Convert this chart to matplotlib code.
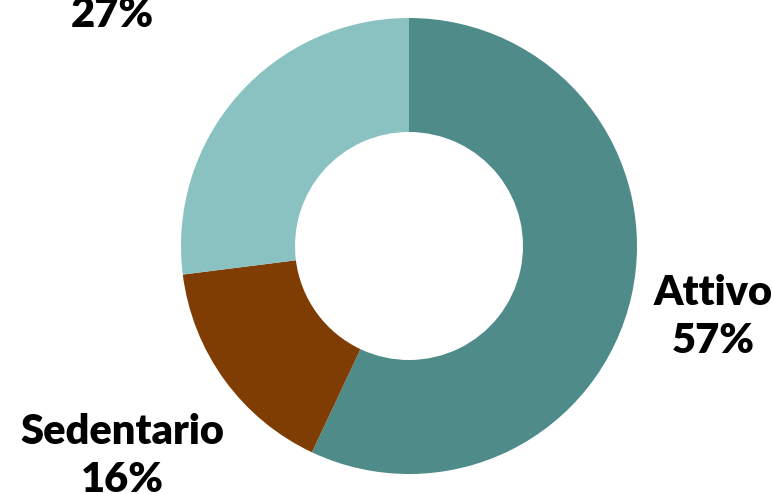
import matplotlib
matplotlib.use("Agg")
import matplotlib.pyplot as plt

categorie = ["Attivo", "Sedentario", "Moderato"]
percentuali = [57, 16, 27]
colori = ["#4E8B89", "#7F3D03", "#8AC1C1"]

fig = plt.figure(figsize=(7.72, 4.94), dpi=100)
ax = fig.add_axes([0, 0, 1, 1])
ax.set_xlim(0, 772)
ax.set_ylim(0, 494)
ax.set_aspect("equal")
ax.axis("off")

ax.pie(percentuali, colors=colori, startangle=90, counterclock=False,
       center=(409, 248), radius=228, wedgeprops=dict(width=114, linewidth=0))
ax.set_xlim(0, 772)
ax.set_ylim(0, 494)

# posizioni delle etichette (pixel, origine in basso)
pos_etichette = [(713, 177), (122, 38), (112, 503)]
for nome, p, (x, y) in zip(categorie, percentuali, pos_etichette):
    ax.text(x, y, f"{nome}\n{p}%", ha="center", va="center",
            fontsize=30, fontweight="heavy", family=["Lato", "DejaVu Sans"],
            linespacing=1.3, clip_on=False)

fig.savefig("out.png", dpi=100)
